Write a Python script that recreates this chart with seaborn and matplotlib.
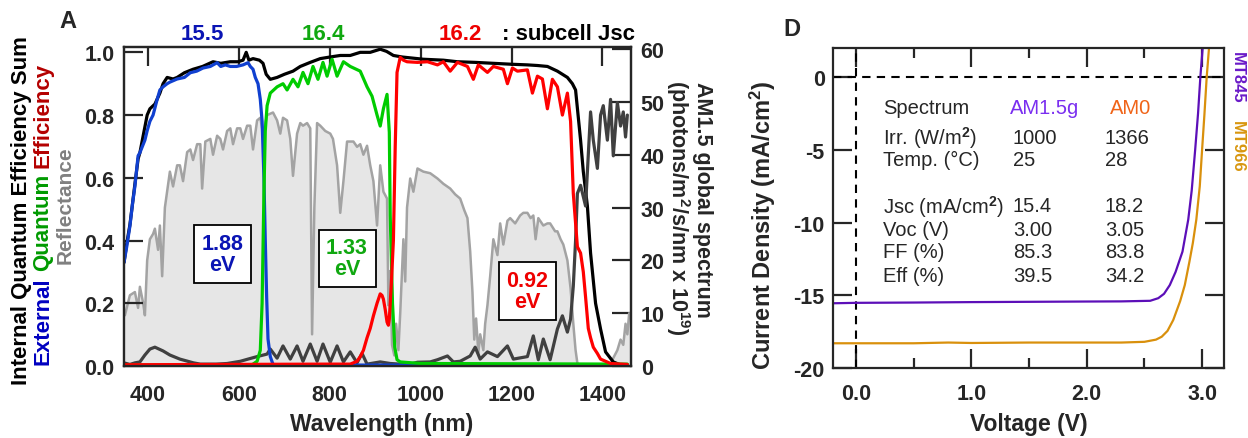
import matplotlib
matplotlib.use("Agg")
import matplotlib.pyplot as plt
import seaborn as sns

sns.set_style("ticks")
plt.rcParams["font.family"] = ["Liberation Sans", "DejaVu Sans"]
plt.rcParams["font.weight"] = "bold"
plt.rcParams["mathtext.fontset"] = "custom"
plt.rcParams["mathtext.rm"] = "Liberation Sans"
plt.rcParams["mathtext.it"] = "Liberation Sans:italic"
plt.rcParams["mathtext.bf"] = "Liberation Sans:bold"

# ---------------- panel A data ----------------
spec_wl = [349, 360, 371, 378, 382, 389, 393, 398, 404, 411, 415, 422, 426, 431, 437,
           448, 455, 464, 470, 477, 486, 493, 499, 508, 515, 519, 526, 537, 543, 552,
           559, 565, 574, 581, 587, 596, 603, 609, 618, 625, 631, 640, 647, 653, 662,
           675, 684, 691, 697, 706, 713, 719, 728, 735, 741, 750, 757, 761, 766, 772,
           779, 790, 801, 807, 816, 823, 830, 838, 852, 860, 867, 874, 882, 889, 896,
           904, 911, 918, 926, 929, 933, 937, 942, 946, 951, 955, 962, 966, 970, 977,
           984, 993, 1006, 1021, 1037, 1050, 1065, 1076, 1087, 1096, 1103, 1109, 1114,
           1118, 1122, 1127, 1131, 1138, 1142, 1147, 1153, 1160, 1169, 1175, 1182, 1191,
           1197, 1208, 1219, 1226, 1235, 1242, 1248, 1253, 1259, 1270, 1279, 1285, 1296,
           1301, 1308, 1314, 1323, 1330, 1336, 1341, 1345, 1352, 1370, 1390, 1405, 1418,
           1424, 1433, 1440, 1446, 1451, 1455, 1459]
spec_val = [9.6, 13.4, 14, 11, 15, 12, 9.6, 20, 24, 25, 26, 22, 26.6, 17, 30,
            36.8, 34, 38, 38, 35, 40.5, 41, 39, 42, 42, 33.6, 42.5, 43, 40, 43.6,
            43, 41, 44.5, 45, 42, 45, 45, 43, 45.5, 45.5, 41, 46.5, 47, 44, 47.5,
            48, 46.5, 44, 47, 46.5, 43, 36, 44, 46, 45.5, 46, 45, 6, 30, 46,
            45.5, 44.5, 44, 43, 38, 29, 35, 42.5, 42.5, 41.5, 42, 40, 41.7, 38, 35,
            26.6, 38, 33, 31.7, 11.5, 18, 4, 2, 8, 3, 10, 24, 16, 30, 35.5,
            33, 37.4, 36.8, 36.5, 35.5, 34.5, 33.6, 32.5, 31.7, 29.5, 28, 21.7, 14,
            5, 9, 2.5, 6, 3, 8, 11.5, 17, 24, 21, 27, 23, 27.5,
            28, 27, 28.5, 29, 29, 28, 28.5, 24, 28, 26.6, 27, 27, 25.5,
            25.5, 24, 23, 20, 14.7, 8, 3, 0.5, 0.2, 0.2, 0.3, 0.2, 0.3,
            1.5, 3, 5, 4, 8, 6, 10]

sum_wl = [347, 353, 360, 371, 378, 382, 390, 398, 404, 415, 426, 433, 442, 455, 464,
          480, 499, 520, 543, 560, 581, 598, 609, 616, 622, 631, 645, 653, 660, 669,
          684, 700, 719, 735, 757, 779, 800, 823, 845, 867, 889, 911, 925, 940, 960,
          1006, 1050, 1081, 1120, 1160, 1200, 1235, 1257, 1279, 1301, 1323, 1334, 1341,
          1352, 1358, 1367, 1374, 1385, 1396, 1407, 1424, 1446, 1455]
sum_val = [0.33, 0.39, 0.45, 0.58, 0.66, 0.68, 0.74, 0.80, 0.82, 0.835, 0.87, 0.90, 0.92,
           0.915, 0.92, 0.935, 0.946, 0.955, 0.97, 0.965, 0.97, 0.97, 0.975, 1.0, 0.975,
           0.98, 0.975, 0.965, 0.93, 0.914, 0.92, 0.93, 0.94, 0.955, 0.968, 0.98, 0.985,
           0.99, 0.99, 1.0, 1.0, 1.01, 1.003, 0.99, 0.985, 0.978, 0.975, 0.97, 0.968,
           0.965, 0.962, 0.96, 0.958, 0.955, 0.94, 0.92, 0.90, 0.88, 0.72, 0.62, 0.51,
           0.36, 0.20, 0.118, 0.045, 0.013, 0.0, 0.0]

top_wl = [347, 353, 360, 366, 371, 378, 382, 393, 398, 404, 411, 420, 426, 433, 442,
          448, 464, 480, 493, 507, 521, 537, 552, 560, 570, 581, 595, 609, 620, 625,
          631, 636, 642, 647, 651, 655, 658, 661, 664, 669, 675, 700, 1000, 1455]
top_eqe = [0.33, 0.38, 0.446, 0.52, 0.573, 0.67, 0.68, 0.72, 0.75, 0.78, 0.80, 0.85,
           0.88, 0.89, 0.90, 0.905, 0.915, 0.92, 0.935, 0.94, 0.95, 0.955, 0.967, 0.955,
           0.96, 0.955, 0.955, 0.96, 0.967, 0.955, 0.946, 0.92, 0.90, 0.85, 0.78, 0.60,
           0.40, 0.22, 0.086, 0.03, 0.005, 0.003, 0.003, 0.002]

mid_wl = [347, 620, 630, 640, 647, 651, 655, 658, 662, 669, 684, 697, 706, 719, 730,
          741, 752, 763, 774, 785, 794, 805, 816, 830, 845, 867, 882, 893, 904, 911,
          918, 926, 931, 933, 938, 943, 948, 955, 1000, 1455]
mid_eqe = [0.003, 0.003, 0.005, 0.015, 0.05, 0.2, 0.55, 0.75, 0.83, 0.87, 0.89, 0.90,
           0.88, 0.914, 0.89, 0.936, 0.90, 0.955, 0.914, 0.968, 0.924, 0.978, 0.924,
           0.97, 0.955, 0.94, 0.89, 0.86, 0.80, 0.765, 0.82, 0.866, 0.745, 0.48, 0.2,
           0.06, 0.02, 0.013, 0.008, 0.006]

bot_wl = [347, 800, 845, 860, 867, 874, 882, 889, 896, 904, 911, 915, 918, 922, 926,
          929, 931, 935, 940, 944, 948, 955, 962, 970, 993, 1015, 1037, 1050, 1065,
          1081, 1103, 1116, 1127, 1147, 1160, 1182, 1191, 1202, 1213, 1235, 1246, 1257,
          1268, 1279, 1290, 1301, 1312, 1323, 1330, 1336, 1345, 1352, 1358, 1363, 1369,
          1374, 1380, 1389, 1396, 1418, 1455]
bot_eqe = [0.004, 0.006, 0.006, 0.015, 0.03, 0.05, 0.09, 0.12, 0.16, 0.20, 0.23, 0.225,
           0.213, 0.18, 0.14, 0.13, 0.15, 0.25, 0.40, 0.70, 0.936, 0.984, 0.975, 0.97,
           0.968, 0.97, 0.96, 0.97, 0.94, 0.968, 0.955, 0.914, 0.96, 0.936, 0.955, 0.946,
           0.90, 0.95, 0.94, 0.944, 0.87, 0.924, 0.915, 0.82, 0.914, 0.89, 0.80, 0.87,
           0.78, 0.55, 0.38, 0.36, 0.30, 0.22, 0.12, 0.09, 0.06, 0.04, 0.022, 0.008, 0.005]

refl_wl = [347, 360, 371, 382, 393, 404, 415, 433, 448, 470, 500, 515, 550, 574, 603,
           620, 640, 662, 669, 684, 697, 713, 728, 741, 757, 772, 785, 801, 816, 830,
           845, 860, 871, 882, 911, 933, 955, 977, 993, 1021, 1037, 1059, 1072, 1087,
           1109, 1120, 1131, 1147, 1169, 1191, 1204, 1235, 1248, 1259, 1270, 1285, 1301,
           1312, 1323, 1330, 1336, 1341, 1345, 1352, 1363, 1374, 1380, 1389, 1396, 1402,
           1411, 1418, 1424, 1433, 1440, 1446, 1451, 1455]
refl_val = [0.01, 0.005, 0.01, 0.013, 0.035, 0.054, 0.06, 0.048, 0.035, 0.022, 0.01,
            0.006, 0.006, 0.008, 0.015, 0.022, 0.03, 0.038, 0.054, 0.025, 0.064, 0.022,
            0.064, 0.015, 0.07, 0.015, 0.07, 0.012, 0.064, 0.013, 0.045, 0.01, 0.04,
            0.006, 0.013, 0.008, 0.006, 0.006, 0.012, 0.013, 0.02, 0.032, 0.013, 0.015,
            0.032, 0.06, 0.022, 0.045, 0.03, 0.064, 0.022, 0.03, 0.096, 0.02, 0.086,
            0.02, 0.118, 0.16, 0.108, 0.15, 0.255, 0.40, 0.55, 0.576, 0.51, 0.81, 0.72,
            0.63, 0.80, 0.83, 0.72, 0.85, 0.67, 0.84, 0.765, 0.81, 0.73, 0.80]

subcell_jsc = ["15.5", "16.4", "16.2"]
bandgaps = ["1.88", "1.33", "0.92"]
bandgap_pos = [(563, 0.357), (838, 0.344), (1235, 0.239)]

wl_ticks = [400, 600, 800, 1000, 1200, 1400]
eqe_ticks = [0.0, 0.2, 0.4, 0.6, 0.8, 1.0]
eqe_labels = ["0.0", "0.2", "0.4", "0.6", "0.8", "1.0"]
spec_ticks = [0, 10, 20, 30, 40, 50, 60]

# ---------------- panel D data ----------------
v_mt845 = [-0.2, 0.0, 0.5, 1.0, 1.5, 2.0, 2.3, 2.55, 2.62, 2.67, 2.72, 2.77, 2.83,
           2.88, 2.91, 2.94, 2.965, 2.985, 3.005]
j_mt845 = [-15.55, -15.52, -15.5, -15.47, -15.45, -15.43, -15.42, -15.38, -15.2, -14.9,
           -14.3, -13.4, -12.0, -9.8, -7.8, -5.0, -2.5, 0.0, 2.0]
v_mt966 = [-0.2, 0.0, 0.5, 0.8, 1.0, 1.5, 2.0, 2.3, 2.5, 2.6, 2.65, 2.7, 2.75, 2.81,
           2.85, 2.89, 2.92, 2.95, 2.98, 3.0, 3.02, 3.04, 3.06]
j_mt966 = [-18.3, -18.3, -18.3, -18.25, -18.28, -18.25, -18.25, -18.25, -18.2, -18.05,
           -17.85, -17.45, -16.7, -15.4, -14.3, -12.7, -11.4, -9.8, -7.5, -5.0, -2.6,
           0.0, 2.0]

volt_ticks = [0.0, 1.0, 2.0, 3.0]
volt_labels = ["0.0", "1.0", "2.0", "3.0"]
jd_ticks = [-20, -15, -10, -5, 0]

table_rows = ["Irr. (W/m$^2$)", "Temp. (°C)", "Jsc (mA/cm$^2$)", "Voc (V)", "FF (%)", "Eff (%)"]
am15_vals = ["1000", "25", "15.4", "3.00", "85.3", "39.5"]
am0_vals = ["1366", "28", "18.2", "3.05", "83.8", "34.2"]

# ---------------- figure ----------------
W, H = 1248, 439
fig = plt.figure(figsize=(W / 100, H / 100), dpi=100)


def fx(x):
    return x / W


def fy(y):
    return 1 - y / H


blue, green, red = "#1040d0", "#00cc00", "#ff0000"
blue_t, green_t, red_t = "#0a14b4", "#10a810", "#ee0000"
tick_sz = 15.5

# panel A
ax = fig.add_axes([fx(124), fy(367), (631 - 124) / W, (367 - 48) / H])
twin = ax.twinx()
twin.fill_between(spec_wl, spec_val, color="#e6e6e6", lw=0)
sns.lineplot(x=spec_wl, y=spec_val, ax=twin, color="#a3a3a3", linewidth=1.8,
             sort=False, estimator=None)
ax.set_zorder(twin.get_zorder() + 1)
ax.patch.set_visible(False)

lw = 2.3
sns.lineplot(x=sum_wl, y=sum_val, ax=ax, color="black", linewidth=lw, sort=False, estimator=None)
sns.lineplot(x=refl_wl, y=refl_val, ax=ax, color="#404040", linewidth=lw, sort=False, estimator=None)
sns.lineplot(x=top_wl, y=top_eqe, ax=ax, color=blue, linewidth=lw, sort=False, estimator=None)
sns.lineplot(x=mid_wl, y=mid_eqe, ax=ax, color=green, linewidth=lw, sort=False, estimator=None)
sns.lineplot(x=bot_wl, y=bot_eqe, ax=ax, color=red, linewidth=lw, sort=False, estimator=None)

ax.set_xlim(347, 1463)
ax.set_ylim(0, 1.017)
twin.set_ylim(0, 60.4)
ax.set_xticks(wl_ticks)
ax.set_xticklabels([str(t) for t in wl_ticks])
ax.set_yticks(eqe_ticks)
ax.set_yticklabels(eqe_labels)
twin.set_yticks(spec_ticks)
twin.set_yticklabels([str(t) for t in spec_ticks])
ax.tick_params(axis="x", direction="in", length=14, width=1.6, bottom=False, top=True,
               labelbottom=True, labelsize=tick_sz, pad=13)
ax.tick_params(axis="y", direction="in", length=14, width=1.6, left=True, right=False,
               labelsize=tick_sz, pad=7)
twin.tick_params(axis="y", direction="in", length=14, width=1.6, labelsize=tick_sz, pad=7)
for a in (ax, twin):
    for s in a.spines.values():
        s.set_linewidth(1.6)
ax.set_xlabel("")
ax.set_ylabel("")
twin.set_ylabel("")

box_colors = [blue_t, green_t, red_t]
for gap, (bx, by), c in zip(bandgaps, bandgap_pos, box_colors):
    ax.text(bx, by, gap + "\neV", color=c, fontsize=15.5, ha="center", va="center",
            linespacing=1.0, zorder=10,
            bbox=dict(boxstyle="square,pad=0.35", fc="white", ec="black", lw=1.3))

# top Jsc labels
for txt, x, c in zip(subcell_jsc, [202, 323, 460], box_colors):
    fig.text(fx(x), fy(35), txt, color=c, fontsize=16, ha="center", va="center")
fig.text(fx(568), fy(35), ": subcell Jsc", color="black", fontsize=16, ha="center", va="center")
fig.text(fx(68), fy(22), "A", fontsize=17, ha="center", va="center")

# left label (three lines, second one multi-coloured)
fig.text(fx(22), fy(211), "Internal Quantum Efficiency Sum", rotation=90, fontsize=16,
         ha="center", va="center", color="black")
prev = fig.text(fx(43), fy(365), "External", rotation=90, fontsize=16,
                ha="center", va="bottom", color="#0000c0")
for word, c in [("Quantum", "#009a00"), ("Efficiency", "#b40000")]:
    prev = ax.annotate(word, xy=(0.5, 1), xycoords=prev, xytext=(0, 4.5),
                       textcoords="offset points", rotation=90, fontsize=16,
                       ha="center", va="bottom", color=c, annotation_clip=False)
fig.text(fx(65), fy(205), "Reflectance", rotation=90, fontsize=15,
         ha="center", va="center", color="#808080")

# right label
fig.text(fx(702), fy(82), "AM1.5 global spectrum", rotation=-90, fontsize=15.5,
         ha="center", va="top")
fig.text(fx(678), fy(80), "(photons/m$^{2}$/s/nm x 10$^{19}$)", rotation=-90,
         fontsize=15.5, ha="center", va="top")
fig.text(fx(382), fy(425), "Wavelength (nm)", fontsize=16.5, ha="center", va="center")

# panel D
ax2 = fig.add_axes([fx(833), fy(369), (1224 - 833) / W, (369 - 49) / H])
ax2.axhline(0, color="black", lw=1.5, ls=(0, (4, 3)), zorder=1)
ax2.axvline(0, color="black", lw=1.5, ls=(0, (4, 3)), zorder=1)
sns.lineplot(x=v_mt845, y=j_mt845, ax=ax2, color="#5c0fb8", linewidth=1.6,
             sort=False, estimator=None)
sns.lineplot(x=v_mt966, y=j_mt966, ax=ax2, color="#d9900c", linewidth=1.6,
             sort=False, estimator=None)
ax2.set_xlim(-0.2, 3.19)
ax2.set_ylim(-20, 2.0)
ax2.set_xticks(volt_ticks)
ax2.set_xticklabels(volt_labels)
ax2.set_xticks([0.5, 1.5, 2.5], minor=True)
ax2.set_yticks(jd_ticks)
ax2.set_yticklabels([str(t) for t in jd_ticks])
ax2.tick_params(axis="both", which="major", direction="in", length=14, width=1.6,
                top=True, right=True, labelsize=tick_sz)
ax2.tick_params(axis="x", which="major", pad=11)
ax2.tick_params(axis="y", which="major", pad=6)
ax2.tick_params(axis="x", which="minor", direction="in", length=7, width=1.6, top=True)
for s in ax2.spines.values():
    s.set_linewidth(1.6)
ax2.set_xlabel("")
ax2.set_ylabel("")

fig.text(fx(792), fy(30), "D", fontsize=17, ha="center", va="center")
fig.text(fx(763), fy(225), "Current Density (mA/cm$^2$)", rotation=90, fontsize=17,
         ha="center", va="center")
fig.text(fx(1029), fy(425), "Voltage (V)", fontsize=16.5, ha="center", va="center")

# table of cell parameters
tsz = 14.5
fig.text(fx(883), fy(108), "Spectrum", fontsize=tsz, fontweight="normal", va="center")
fig.text(fx(1010), fy(108), "AM1.5g", fontsize=tsz, fontweight="normal", va="center", color="#7a2ef0")
fig.text(fx(1110), fy(108), "AM0", fontsize=tsz, fontweight="normal", va="center", color="#f06418")
for row, v1, v2, y in zip(table_rows, am15_vals, am0_vals, [138, 160, 207, 231, 253, 276]):
    fig.text(fx(883), fy(y), row, fontsize=tsz, fontweight="normal", va="center")
    fig.text(fx(1013), fy(y), v1, fontsize=tsz, fontweight="normal", va="center")
    fig.text(fx(1105), fy(y), v2, fontsize=tsz, fontweight="normal", va="center")

fig.text(fx(1237), fy(52), "MT845", rotation=-90, fontsize=12, ha="center", va="top", color="#6a1ac8")
fig.text(fx(1237), fy(121), "MT966", rotation=-90, fontsize=12, ha="center", va="top", color="#d8960f")

fig.savefig("out.png", dpi=100)
